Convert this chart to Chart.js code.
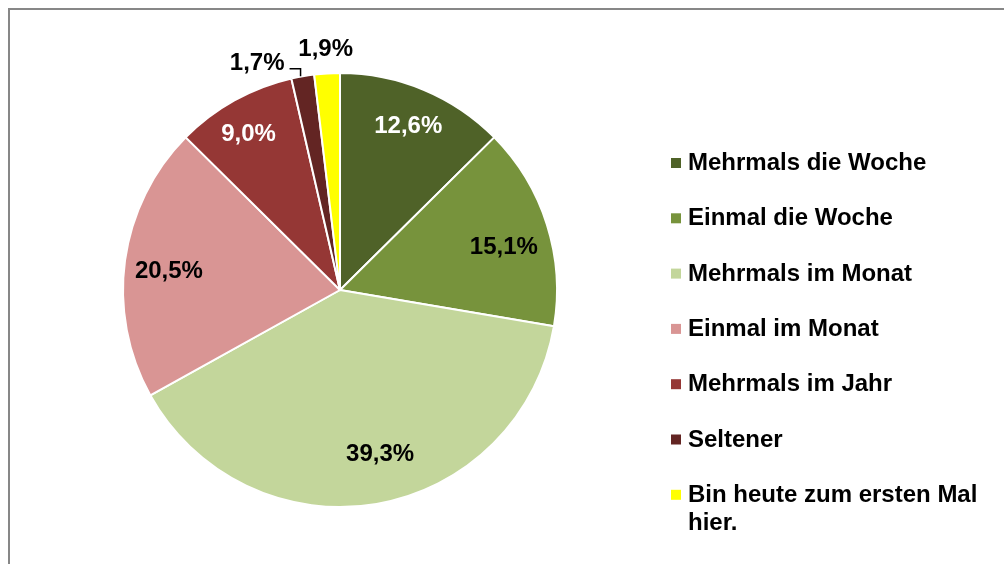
<!DOCTYPE html>
<html>
<head>
<meta charset="utf-8">
<script src="https://cdn.jsdelivr.net/npm/chart.js@4.4.1/dist/chart.umd.min.js"></script>
<style>
  body { margin: 0; background: #fff; overflow: hidden; }
  #wrap { position: relative; width: 1004px; height: 564px; }
  #frame { position: absolute; left: 8px; top: 8px; width: 1010px; height: 580px; border: 2px solid #878787; }
  canvas { position: absolute; left: 0; top: 0; }
</style>
</head>
<body>
<div id="wrap">
  <div id="frame"></div>
  <canvas id="pie" width="1004" height="564"></canvas>
</div>
<script>
// Anteile laut Grafik
const categories = ['Mehrmals die Woche', 'Einmal die Woche', 'Mehrmals im Monat', 'Einmal im Monat', 'Mehrmals im Jahr', 'Seltener', 'Bin heute zum ersten Mal hier.'];
const shares = [12.6, 15.1, 39.3, 20.5, 9.0, 1.7, 1.9];
const colors = ['#4F6228', '#77933C', '#C3D69B', '#D99594', '#953735', '#632523', '#FFFF00'];
const labelColors = ['#fff', '#000', '#000', '#000', '#fff', '#000', '#000'];

const FONT = 'bold 24px "Liberation Sans", Arial, sans-serif';

const fmt = v => v.toFixed(1).replace('.', ',') + '%';

// Feinjustierung der Beschriftung: [Winkelversatz in Grad, Radiusanteil]
const labelPlace = [[0, 0.816], [3, 0.78], [-4, 0.78], [-1.7, 0.793], [-1.4, 0.83]];

const sliceLabels = {
  id: 'sliceLabels',
  afterDatasetsDraw(chart) {
    const ctx = chart.ctx;
    const arcs = chart.getDatasetMeta(0).data;
    ctx.save();
    ctx.font = FONT;
    ctx.textBaseline = 'middle';
    arcs.forEach((arc, i) => {
      const { x, y, startAngle, endAngle, outerRadius } = arc.getProps(['x', 'y', 'startAngle', 'endAngle', 'outerRadius'], true);
      const mid = (startAngle + endAngle) / 2;
      const txt = fmt(shares[i]);
      ctx.fillStyle = labelColors[i];
      if (i === 5) {
        // kleines Stück: Text links mit Führungslinie
        const px = x + Math.cos(mid) * (outerRadius + 1) - 2;
        const py = y + Math.sin(mid) * (outerRadius + 1) + 1;
        ctx.strokeStyle = '#000';
        ctx.lineWidth = 1.5;
        ctx.beginPath();
        ctx.moveTo(px, py);
        ctx.lineTo(px, py - 7.5);
        ctx.lineTo(px - 11, py - 7.5);
        ctx.stroke();
        ctx.textAlign = 'right';
        ctx.fillText(txt, px - 16, py - 13);
      } else if (i === 6) {
        ctx.textAlign = 'center';
        ctx.fillText(txt, x + Math.cos(mid) * (outerRadius + 24), y + Math.sin(mid) * (outerRadius + 24));
      } else {
        const a = mid + labelPlace[i][0] * Math.PI / 180;
        const r = outerRadius * labelPlace[i][1];
        ctx.textAlign = 'center';
        ctx.fillText(txt, x + Math.cos(a) * r, y + Math.sin(a) * r);
      }
    });
    ctx.restore();
  }
};

const sideLegend = {
  id: 'sideLegend',
  afterDraw(chart) {
    const ctx = chart.ctx;
    const left = 671, textX = 688, maxW = 300;
    let base = 170;
    ctx.save();
    ctx.font = FONT;
    ctx.textBaseline = 'alphabetic';
    ctx.textAlign = 'left';
    categories.forEach((name, i) => {
      ctx.fillStyle = colors[i];
      ctx.fillRect(left, base - 12, 10, 10);
      // Zeilenumbruch wie im Original
      const words = name.split(' ');
      const lines = [];
      let cur = '';
      words.forEach(w => {
        const t = cur ? cur + ' ' + w : w;
        if (ctx.measureText(t).width > maxW && cur) { lines.push(cur); cur = w; } else cur = t;
      });
      lines.push(cur);
      ctx.fillStyle = '#000';
      lines.forEach((ln, k) => ctx.fillText(ln, textX, base + k * 27.7));
      base += 55.3;
    });
    ctx.restore();
  }
};

new Chart(document.getElementById('pie'), {
  type: 'pie',
  data: {
    labels: categories,
    datasets: [{
      data: shares,
      backgroundColor: colors,
      borderColor: '#fff',
      borderWidth: 2
    }]
  },
  options: {
    responsive: false,
    animation: false,
    devicePixelRatio: 1,
    layout: { padding: { left: 122, right: 446, top: 72, bottom: 56 } },
    plugins: {
      legend: { display: false },
      tooltip: { enabled: false }
    }
  },
  plugins: [sliceLabels, sideLegend]
});
</script>
</body>
</html>
